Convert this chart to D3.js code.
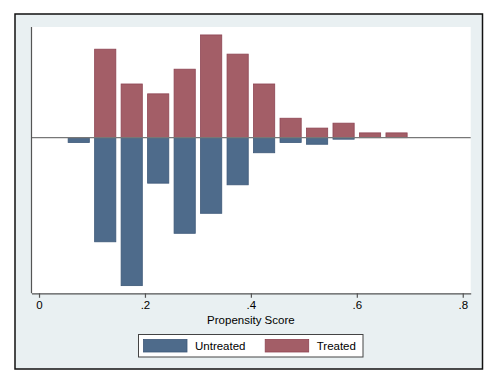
<!DOCTYPE html>
<html>
<head>
<meta charset="utf-8">
<script src="https://cdn.jsdelivr.net/npm/d3@7"></script>
<style>
    html, body { margin: 0; padding: 0; background: #fff; }
    svg { display: block; font-family: "Liberation Sans", Arial, sans-serif; }
</style>
</head>
<body>
<div id="chart"></div>
<script>
// bin midpoints (propensity score, bin width .05)
var bins = [0.075, 0.125, 0.175, 0.225, 0.275, 0.325, 0.375, 0.425, 0.475, 0.525, 0.575, 0.625, 0.675];
// densities per bin
var treated   = [0, 3.23, 1.96, 1.60, 2.50, 3.75, 3.05, 1.96, 0.71, 0.35, 0.53, 0.175, 0.175];
var untreated = [0.175, 3.80, 5.40, 1.66, 3.49, 2.76, 1.72, 0.55, 0.175, 0.24, 0.055, 0, 0];
var xTicks = [0, 0.2, 0.4, 0.6, 0.8];
var series = ['Untreated', 'Treated'];

var width = 500,
    height = 388,
    plot = {left: 31.5, top: 27, right: 470.7, bottom: 293.3},
    colors = {
        Untreated: {fill: '#4e6b8b', stroke: '#3d5878'},
        Treated: {fill: '#a35e67', stroke: '#8e4553'}
    },
    svg = d3.select('#chart').append('svg')
        .attr('width', width)
        .attr('height', height);

// x: 0 -> 39px, .8 -> 462.7px
var xScale = d3.scaleLinear()
        .domain([-0.0142, 0.815])
        .range([plot.left, plot.right]),
    yScale = d3.scaleLinear()
        .domain([-5.68, 4.04])
        .range([plot.bottom, plot.top]),
    barw = xScale(0.04) - xScale(0);

// graph region
svg.append('rect')
    .attr('x', 15)
    .attr('y', 14)
    .attr('width', 467.5)
    .attr('height', 355)
    .attr('fill', '#e9f0f2')
    .attr('stroke', '#111')
    .attr('stroke-width', 1.5);

svg.append('rect')
    .attr('x', plot.left)
    .attr('y', plot.top)
    .attr('width', plot.right - plot.left)
    .attr('height', plot.bottom - plot.top)
    .attr('fill', '#fff');

var data = [];
bins.forEach(function(b, i) {
    if (treated[i] > 0) data.push({x: b, v: treated[i], s: 'Treated'});
    if (untreated[i] > 0) data.push({x: b, v: -untreated[i], s: 'Untreated'});
});

svg.append('g').selectAll('rect')
    .data(data)
    .enter()
    .append('rect')
    .attr('x', function(d) { return xScale(d.x) - barw/2; })
    .attr('y', function(d) { return yScale(Math.max(0, d.v)); })
    .attr('width', barw)
    .attr('height', function(d) { return Math.abs(yScale(d.v) - yScale(0)); })
    .attr('fill', function(d) { return colors[d.s].fill; })
    .attr('stroke', function(d) { return colors[d.s].stroke; })
    .attr('stroke-width', 0.8);

// zero line
svg.append('line')
    .attr('x1', plot.left)
    .attr('x2', plot.right)
    .attr('y1', yScale(0))
    .attr('y2', yScale(0))
    .attr('stroke', '#777')
    .attr('stroke-width', 1.3);

// y axis line, no labels
svg.append('line')
    .attr('x1', plot.left)
    .attr('x2', plot.left)
    .attr('y1', plot.top)
    .attr('y2', plot.bottom)
    .attr('stroke', '#555')
    .attr('stroke-width', 1.2);

var xAxis = d3.axisBottom(xScale)
        .tickValues(xTicks)
        .tickSize(4.5)
        .tickSizeOuter(0)
        .tickPadding(3)
        .tickFormat(function(d) { return d === 0 ? '0' : d3.format('.1f')(d).replace(/^0/, ''); });

var xx = svg.append('g')
    .attr('transform', 'translate(0,' + plot.bottom + ')')
    .call(xAxis);

xx.select('.domain')
    .attr('stroke', '#555')
    .attr('stroke-width', 1.2);
xx.selectAll('.tick line')
    .attr('stroke', '#555')
    .attr('stroke-width', 1.2);
xx.selectAll('.tick text')
    .attr('fill', '#000')
    .style('font-size', '11.5px')
    .style('font-family', '"Liberation Sans", Arial, sans-serif');

svg.append('text')
    .attr('x', xScale(0.4))
    .attr('y', 324)
    .attr('text-anchor', 'middle')
    .style('font-size', '11.5px')
    .text('Propensity Score');

// legend
var legend = svg.append('g');
legend.append('rect')
    .attr('x', 138.5)
    .attr('y', 334.5)
    .attr('width', 224.5)
    .attr('height', 22.5)
    .attr('fill', '#fff')
    .attr('stroke', '#444')
    .attr('stroke-width', 1);

var items = legend.selectAll('.legend')
    .data(series)
    .enter()
    .append('g')
    .attr('class', 'legend')
    .attr('transform', function(d, i) { return 'translate(' + (143.5 + i*121.7) + ',0)'; });

items.append('rect')
    .attr('y', 339.5)
    .attr('width', 43.5)
    .attr('height', 12.5)
    .attr('fill', function(d) { return colors[d].fill; })
    .attr('stroke', function(d) { return colors[d].stroke; })
    .attr('stroke-width', 0.8);

items.append('text')
    .attr('x', 51.5)
    .attr('y', 350)
    .style('font-size', '11.5px')
    .text(function(d) { return d; });
</script>
</body>
</html>
